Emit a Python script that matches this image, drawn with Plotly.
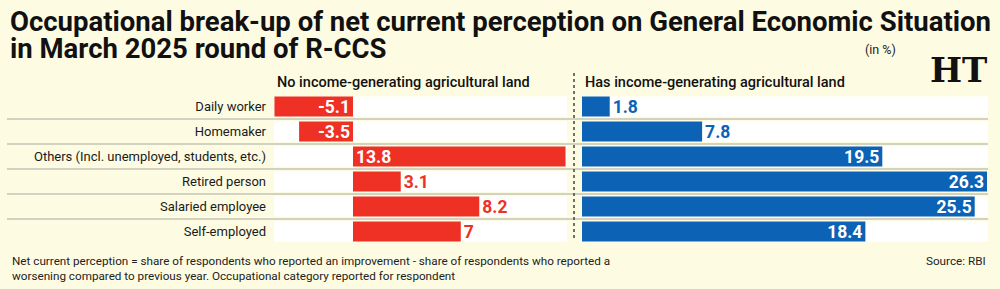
import plotly.graph_objects as go

# ---------------- data ----------------
categories = ["Daily worker", "Homemaker", "Others (Incl. unemployed, students, etc.)",
              "Retired person", "Salaried employee", "Self-employed"]
no_land = [-5.1, -3.5, 13.8, 3.1, 8.2, 7]
has_land = [1.8, 7.8, 19.5, 26.3, 25.5, 18.4]
panel_titles = ["No income-generating agricultural land", "Has income-generating agricultural land"]
title_lines = ["Occupational break-up of net current perception on General Economic Situation",
               "in March 2025 round of R-CCS"]
unit_note = "(in %)"
footnote = ("Net current perception = share of respondents who reported an improvement - share of respondents who reported a<br>"
            "worsening compared to previous year. Occupational category reported for respondent")
source = "Source: RBI"

# ---------------- style ----------------
W, H = 1000, 289
BG = "#FDFCE3"
RED = "#EE3124"
BLUE = "#0C62B5"
FONT = "Roboto, Lato, 'Liberation Sans', sans-serif"


def px_x(p):
    return p / W


def px_y(p):
    return 1 - p / H


# pixel layout
left_dom = (274, 567)
right_dom = (582, 988)
scale = 15.4  # px per unit
zero_left = 353
row_top, row_bot = 94, 244

left_range = [-(zero_left - left_dom[0]) / scale, (left_dom[1] - zero_left) / scale]
right_range = [0, (right_dom[1] - right_dom[0]) / scale]

left_pos = ["inside" if (v < 0 or v > 10) else "outside" for v in no_land]
right_pos = ["inside" if v > 15 else "outside" for v in has_land]

fig = go.Figure()
fig.add_trace(go.Bar(
    x=no_land, y=categories, orientation="h", xaxis="x", yaxis="y",
    marker=dict(color=RED, line=dict(width=0)), width=0.8,
    text=[f"{v:g}" for v in no_land], textposition=left_pos, insidetextanchor="start",
    insidetextfont=dict(color="white", size=17.5, family=FONT, weight="bold"),
    outsidetextfont=dict(color=RED, size=17.5, family=FONT, weight="bold"),
    constraintext="none", cliponaxis=False, hoverinfo="skip", showlegend=False,
))
fig.add_trace(go.Bar(
    x=has_land, y=categories, orientation="h", xaxis="x2", yaxis="y2",
    marker=dict(color=BLUE, line=dict(width=0)), width=0.8,
    text=[f"{v:g}" for v in has_land], textposition=right_pos, insidetextanchor="end",
    insidetextfont=dict(color="white", size=17.5, family=FONT, weight="bold"),
    outsidetextfont=dict(color=BLUE, size=17.5, family=FONT, weight="bold"),
    constraintext="none", cliponaxis=False, hoverinfo="skip", showlegend=False,
))

ydom = [px_y(row_bot), px_y(row_top)]
n = len(categories)
fig.update_layout(
    width=W, height=H, margin=dict(l=0, r=0, t=0, b=0, autoexpand=False),
    paper_bgcolor=BG, plot_bgcolor="rgba(0,0,0,0)",
    bargap=0.2,
    xaxis=dict(domain=[px_x(left_dom[0]), px_x(left_dom[1])], range=left_range,
               showgrid=False, zeroline=False, showticklabels=False, fixedrange=True,
               automargin=False),
    xaxis2=dict(domain=[px_x(right_dom[0]), px_x(right_dom[1])], range=right_range,
                showgrid=False, zeroline=False, showticklabels=False, fixedrange=True,
                automargin=False),
    yaxis=dict(domain=ydom, range=[n - 0.5, -0.5], showgrid=False, zeroline=False,
               ticks="", ticklabelstandoff=7, automargin=False,
               tickfont=dict(family=FONT, size=13, color="#1a1a1a")),
    yaxis2=dict(domain=ydom, range=[n - 0.5, -0.5], anchor="x2", matches="y",
                showgrid=False, zeroline=False, showticklabels=False, automargin=False),
)

shapes = []
# white row bands
for i in range(n):
    for xr in ("x domain", "x2 domain"):
        shapes.append(dict(type="rect", xref=xr, yref="y", x0=0, x1=1, y0=i - 0.4, y1=i + 0.4,
                           fillcolor="white", line=dict(width=0), layer="below"))
# separators
for i in range(n - 1):
    shapes.append(dict(type="line", xref="paper", yref="y", x0=px_x(7), x1=px_x(988),
                       y0=i + 0.5, y1=i + 0.5, line=dict(color="#A8A8A0", width=1), layer="below"))
# dotted divider
shapes.append(dict(type="line", xref="paper", yref="paper", x0=px_x(574), x1=px_x(574),
                   y0=px_y(73), y1=px_y(241), line=dict(color="#444444", width=1.5, dash="dot")))
fig.update_layout(shapes=shapes)

ann = []
ann.append(dict(text=title_lines[0], x=px_x(8), y=px_y(21), xanchor="left", yanchor="middle",
                font=dict(family=FONT, size=27.5, color="#111111", weight="bold")))
ann.append(dict(text=title_lines[1], x=px_x(8), y=px_y(49), xanchor="left", yanchor="middle",
                font=dict(family=FONT, size=27.5, color="#111111", weight="bold")))
ann.append(dict(text=unit_note, x=px_x(880), y=px_y(50), xanchor="center", yanchor="middle",
                font=dict(family=FONT, size=12.5, color="#222222")))
ann.append(dict(text="HT", x=px_x(958), y=px_y(70), xanchor="center", yanchor="middle",
                font=dict(family="DejaVu Serif", size=34, color="#111111", weight="bold")))
ann.append(dict(text=panel_titles[0], x=px_x(275), y=px_y(82), xanchor="left", yanchor="middle",
                font=dict(family=FONT, size=14.5, color="#111111", weight=500)))
ann.append(dict(text=panel_titles[1], x=px_x(583), y=px_y(82), xanchor="left", yanchor="middle",
                font=dict(family=FONT, size=14.5, color="#111111", weight=500)))
ann.append(dict(text=footnote, x=px_x(10), y=px_y(268), xanchor="left", yanchor="middle", align="left",
                font=dict(family=FONT, size=11.7, color="#222222")))
ann.append(dict(text=source, x=px_x(988), y=px_y(261), xanchor="right", yanchor="middle",
                font=dict(family=FONT, size=11.7, color="#222222")))
for a in ann:
    a.update(xref="paper", yref="paper", showarrow=False)
fig.update_layout(annotations=ann)

fig.write_html("out.html")
